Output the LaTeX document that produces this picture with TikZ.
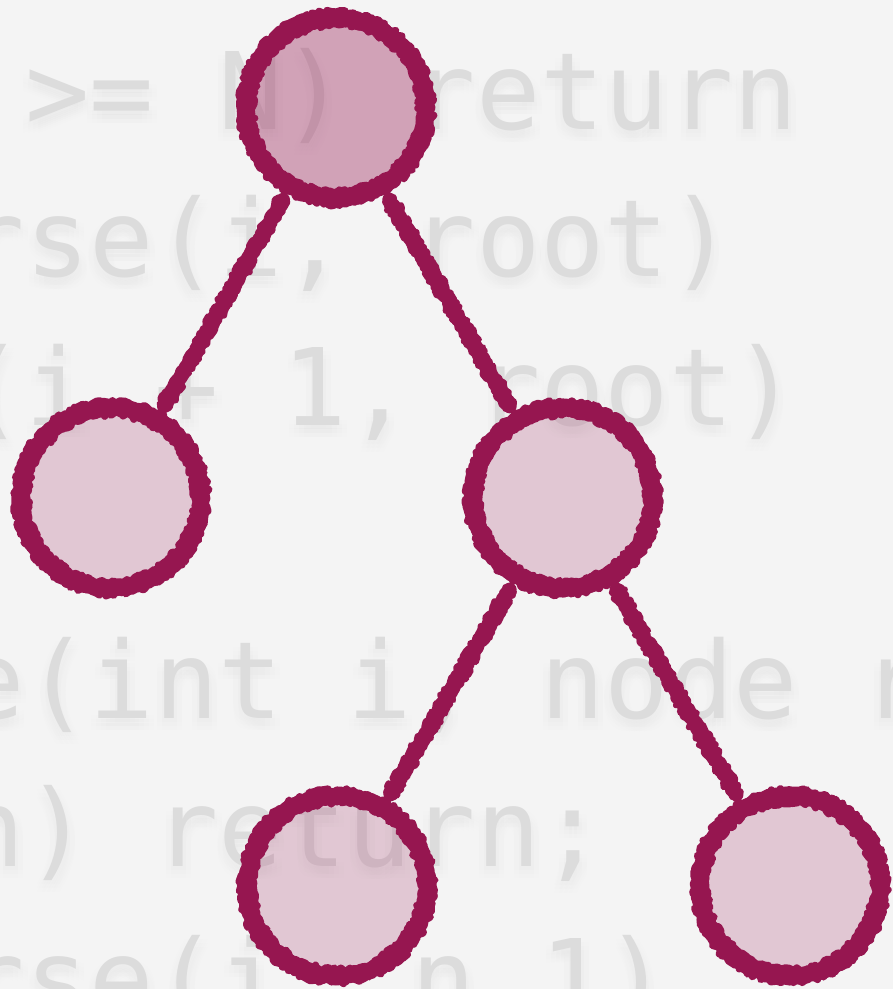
\documentclass[tikz,border=0pt]{standalone}
\usepackage{fontspec}
\setmonofont{DejaVu Sans Mono}
\usetikzlibrary{decorations.pathmorphing,calc}

\definecolor{paper}{HTML}{F4F4F4}
\definecolor{codegray}{HTML}{DCDCDC}
\definecolor{ink}{HTML}{961650}

\tikzset{
  codefont/.style={font=\ttfamily\fontsize{107}{107}\selectfont},
  codeline/.style={codefont, anchor=base west, inner sep=0pt, text=codegray},
  codeshadow/.style={codefont, anchor=base west, inner sep=0pt, text=black, opacity=0.0045},
  treenode/.style={circle, minimum size=180pt, inner sep=0pt, line width=20pt},
  rough/.style={decorate, line join=round, line cap=round,
    decoration={random steps, segment length=3pt, amplitude=1.5pt}},
  fine/.style={decoration={random steps, amplitude=2.4pt, segment length=2.5pt}},
}

% one line of code on the monospace grid: #1 name, #2 first cell, #3 baseline, #4 text
\newcommand{\codeat}[4]{%
  \foreach \dx in {-7,-2,3,8} \foreach \dy in {4,8,12}
    \node[codeshadow] at ({25+64.4*(#2)+\dx},{#3+\dy}) {#4};
  \node[codeline] (#1) at ({25+64.4*(#2)},{#3}) {#4};
}

\begin{document}
\begin{tikzpicture}[x=1pt, y=-1pt]
  \useasboundingbox (0,0) rectangle (893,989);
  \clip (0,0) rectangle (893,989);
  \fill[paper] (0,0) rectangle (893,989);

  % background code
  \codeat{c1}{0}{129}{>= N) return}
  \codeat{c2}{-1}{276}{rse(i, root)}
  \codeat{c3}{-1}{425}{(i + 1, root)}
  \codeat{c4}{-1}{718}{e(int i, node r}
  \codeat{c5}{-1}{866}{n) return;}
  \codeat{c6}{-1}{1016}{rse(i, n,1)}

  % tree nodes
  \node[treenode] (r)  at (336,108) {};
  \node[treenode] (a)  at (111,498) {};
  \node[treenode] (b)  at (563,498) {};
  \node[treenode] (bl) at (337,886) {};
  \node[treenode] (br) at (790,886) {};

  % translucent fills
  \fill[ink, opacity=0.37] (r) circle (92pt);
  \foreach \n in {a,b,bl,br} \fill[ink, opacity=0.2] (\n) circle (92pt);

  % rough outlines, built up from several jittered strokes
  \foreach \n in {r,a,b,bl,br} {
    \draw[ink, line width=16pt, rough] (\n) circle (90pt);
    \draw[ink, line width=7pt, rough, fine] (\n) circle (96pt);
    \draw[ink, line width=7pt, rough, fine] (\n) circle (84pt);
  }

  % connectors, stopping short of both circles
  \foreach \p/\c in {r/a, r/b, b/bl, b/br} {
    \coordinate (s) at ($(\p)!106pt!(\c)$);
    \coordinate (e) at ($(\c)!106pt!(\p)$);
    \draw[ink, rough, line width=14pt] (s) -- (e);
    \draw[ink, rough, fine, line width=6pt] ($(s)!5pt!90:(e)$) -- ($(e)!5pt!-90:(s)$);
    \draw[ink, rough, fine, line width=6pt] ($(s)!5pt!-90:(e)$) -- ($(e)!5pt!90:(s)$);
  }
\end{tikzpicture}
\end{document}
